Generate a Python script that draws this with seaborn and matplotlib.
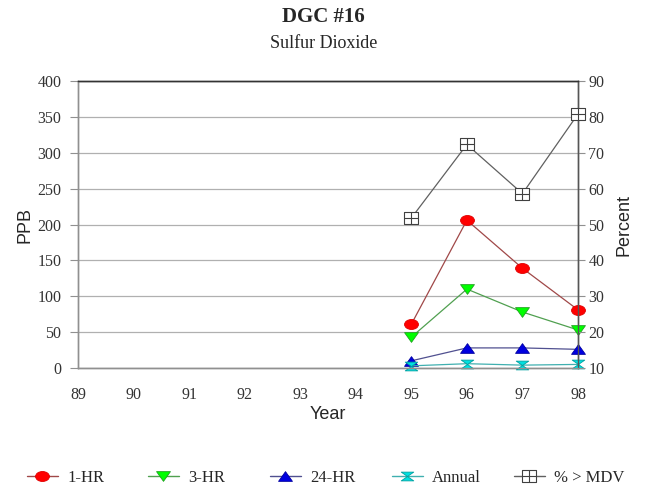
import numpy as np
import pandas as pd
import matplotlib
matplotlib.use("Agg")
import matplotlib.pyplot as plt
from matplotlib.path import Path
from matplotlib.lines import Line2D
import seaborn as sns

# ---- data ----
all_years = [89, 90, 91, 92, 93, 94, 95, 96, 97, 98]
years = [95, 96, 97, 98]
hr1 = [61, 206, 139, 81]
hr3 = [43, 110, 78, 53]
hr24 = [10, 28, 28, 26]
annual = [3, 6, 4, 5]
pct_mdv = [51.8, 72.3, 58.6, 80.8]
legend_labels = ["1-HR", "3-HR", "24-HR", "Annual", "% > MDV"]

ppb_ticks = [0, 50, 100, 150, 200, 250, 300, 350, 400]
pct_ticks = [10, 20, 30, 40, 50, 60, 70, 80, 90]

sns.set_theme(style="white")
plt.rcParams['font.family'] = ['Liberation Serif', 'DejaVu Serif']
SANS = ['Liberation Sans', 'DejaVu Sans']

fig = plt.figure(figsize=(6.47, 4.91), dpi=100)
ax = fig.add_axes([78/647, 1-368/491, 500/647, 287/491])
ax2 = ax.twinx()

# ---- wide (slightly flattened) markers ----
circ = Path.unit_circle()
ellipse = Path(circ.vertices * np.array([1.0, 0.72]), circ.codes)
tri_down = Path([(-1, 0.7), (1, 0.7), (0, -0.7), (-1, 0.7)],
                [Path.MOVETO, Path.LINETO, Path.LINETO, Path.CLOSEPOLY])
tri_up = Path([(-1, -0.7), (1, -0.7), (0, 0.7), (-1, -0.7)],
              [Path.MOVETO, Path.LINETO, Path.LINETO, Path.CLOSEPOLY])
hourglass = Path([(-1, 0.7), (1, 0.7), (-1, -0.7), (1, -0.7), (-1, 0.7)],
                 [Path.MOVETO, Path.LINETO, Path.LINETO, Path.LINETO, Path.CLOSEPOLY])
boxplus = Path([(-1, -0.9), (1, -0.9), (1, 0.9), (-1, 0.9), (-1, -0.9),
                (-1, 0), (1, 0), (0, -0.9), (0, 0.9)],
               [Path.MOVETO, Path.LINETO, Path.LINETO, Path.LINETO, Path.CLOSEPOLY,
                Path.MOVETO, Path.LINETO, Path.MOVETO, Path.LINETO])

series = [
    ("1-HR", "#a04848", ellipse, "#ff0000", "#e00000", 10),
    ("3-HR", "#50a050", tri_down, "#00ff00", "#20a020", 10),
    ("24-HR", "#505090", tri_up, "#0000e0", "#0000a0", 10),
    ("Annual", "#40b0b0", hourglass, "#00e0e0", "#00a0a0", 9),
]

df = pd.DataFrame({"Year": years, "1-HR": hr1, "3-HR": hr3, "24-HR": hr24,
                   "Annual": annual, "Pct": pct_mdv})

handles = []
for name, lc, mk, mfc, mec, ms in series:
    sns.lineplot(data=df, x="Year", y=name, ax=ax, color=lc, lw=0.9,
                 marker=mk, markersize=ms, markerfacecolor=mfc, markeredgecolor=mec,
                 markeredgewidth=0.6, zorder=3, clip_on=False)
    handles.append(Line2D([0], [0], color=lc, lw=1.0, marker=mk, markersize=ms,
                          markerfacecolor=mfc, markeredgecolor=mec, markeredgewidth=0.6))

sns.lineplot(data=df, x="Year", y="Pct", ax=ax2, color="#606060", lw=0.9,
             marker=boxplus, markersize=10, markerfacecolor="white",
             markeredgecolor="#404040", markeredgewidth=0.8, zorder=3, clip_on=False)
handles.append(Line2D([0], [0], color="#606060", lw=1.0, marker=boxplus, markersize=10,
                      markerfacecolor="white", markeredgecolor="#404040", markeredgewidth=0.8))

ax.set_xlim(89, 98)
ax.set_ylim(0, 400)
ax2.set_ylim(10, 90)
ax.set_xticks(all_years)
ax.set_xticklabels([str(y) for y in all_years])
ax.set_yticks(ppb_ticks)
ax2.set_yticks(pct_ticks)

ax.grid(axis='y', color="#b0b0b0", lw=0.9)
ax.grid(axis='x', visible=False)
ax2.grid(False)

tick_kw = dict(labelsize=11.5, labelcolor="#333333")
ax.tick_params(axis='y', which='both', left=True, length=6, width=0.8, color="#909090",
               pad=6, **tick_kw)
ax.tick_params(axis='x', bottom=False, length=0, pad=14, **tick_kw)
ax2.tick_params(axis='y', right=True, length=5, width=0.8, color="#909090", pad=2.5, **tick_kw)

for a in (ax, ax2):
    a.spines['left'].set_color("#909090")
    a.spines['bottom'].set_color("#909090")
    a.spines['top'].set_color("#333333")
    a.spines['right'].set_color("#555555")
    for s in a.spines.values():
        s.set_linewidth(1.0)

ax.set_xlabel("Year", family=SANS, fontsize=13, labelpad=2)
ax.set_ylabel("PPB", family=SANS, fontsize=13, labelpad=3)
ax2.set_ylabel("Percent", family=SANS, fontsize=13, labelpad=8)

fig.text(0.5, 1-17/491, "DGC #16", ha="center", va="center", fontsize=15, fontweight="bold")
fig.text(0.5, 1-43/491, "Sulfur Dioxide", ha="center", va="center", fontsize=13)

starts = [27, 148, 270, 392, 514]
for h, lab, x0 in zip(handles, legend_labels, starts):
    fig.legend(handles=[h], labels=[lab], loc="center left",
               bbox_to_anchor=(x0/647, 1-478/491), frameon=False, fontsize=12,
               borderpad=0, borderaxespad=0, handlelength=1.85, handletextpad=0.55)

fig.savefig("out.png", dpi=100)
